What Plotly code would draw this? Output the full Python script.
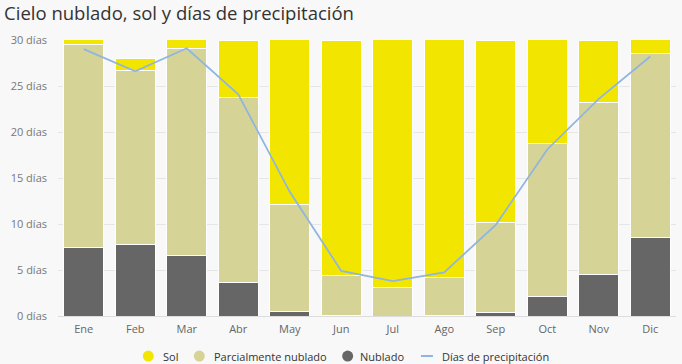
import plotly.graph_objects as go

meses = ["Ene", "Feb", "Mar", "Abr", "May", "Jun", "Jul", "Ago", "Sep", "Oct", "Nov", "Dic"]
dias_mes = [31, 28, 31, 30, 31, 30, 31, 31, 30, 31, 30, 31]
nublado = [7.5, 7.8, 6.6, 3.6, 0.5, 0.05, 0.0, 0.1, 0.35, 2.1, 4.5, 8.5]
parcial_top = [29.5, 26.7, 29.1, 23.7, 12.1, 4.4, 3.1, 4.2, 10.2, 18.7, 23.2, 28.5]
precipitacion = [29.0, 26.6, 29.1, 24.1, 13.5, 4.9, 3.8, 4.75, 9.9, 18.1, 23.6, 28.2]
y_ticks = [0, 5, 10, 15, 20, 25, 30]
legend_names = ["Sol", "Parcialmente nublado", "Nublado", "Días de precipitación"]

parcial = [p - n for p, n in zip(parcial_top, nublado)]
sol = [d - p for d, p in zip(dias_mes, parcial_top)]

C_SOL = "#F2E600"
C_PAR = "#D6D397"
C_NUB = "#666666"
C_LIN = "#8FB5E0"

fig = go.Figure()
for name, vals, col in [("Nublado", nublado, C_NUB), ("Parcialmente nublado", parcial, C_PAR), ("Sol", sol, C_SOL)]:
    fig.add_trace(go.Bar(x=meses, y=vals, name=name, marker=dict(color=col, line=dict(color="white", width=1)),
                         showlegend=False, hoverinfo="y"))
fig.add_trace(go.Scatter(x=meses, y=precipitacion, mode="lines", name="Días de precipitación",
                         line=dict(color=C_LIN, width=1.8), showlegend=False))

# custom legend (symbol close to text, as in the reference)
leg_y = -0.145
leg_sym_x = [0.1461, 0.2287, 0.4687, 0.597]
leg_txt_x = [0.1667, 0.2487, 0.4854, 0.618]
leg_cols = [C_SOL, C_PAR, C_NUB, C_LIN]
for i, (name, sx, tx, col) in enumerate(zip(legend_names, leg_sym_x, leg_txt_x, leg_cols)):
    if i < 3:
        fig.add_shape(type="circle", xref="paper", yref="paper", xsizemode="pixel", ysizemode="pixel",
                      xanchor=sx, yanchor=leg_y, x0=-5.5, x1=5.5, y0=-5.5, y1=5.5,
                      fillcolor=col, line=dict(width=0))
    else:
        fig.add_shape(type="line", xref="paper", yref="paper", xsizemode="pixel", ysizemode="pixel",
                      xanchor=sx, yanchor=leg_y, x0=-6, x1=6, y0=0, y1=0,
                      line=dict(color=col, width=2))
    fig.add_annotation(text=name, xref="paper", yref="paper", x=tx, y=leg_y, xanchor="left",
                       yanchor="middle", showarrow=False,
                       font=dict(family="Open Sans", size=11, color="#333333"))

fig.update_layout(
    width=682, height=364,
    barmode="stack", bargap=0.22,
    paper_bgcolor="#F8F8F8", plot_bgcolor="#F8F8F8",
    margin=dict(l=58, r=6, t=40, b=48, autoexpand=False),
    title=dict(text="Cielo nublado, sol y días de precipitación", x=0.006, xanchor="left", xref="container",
               y=0.9615, yanchor="middle", font=dict(family="Open Sans", size=18.5, color="#333333")),
    font=dict(family="Open Sans", color="#666666", size=11),
    showlegend=False,
    xaxis=dict(showgrid=False, showline=True, linecolor="#DDDDDD", ticks="", automargin=False,
               ticklabelstandoff=3, tickfont=dict(size=11, color="#666666")),
    yaxis=dict(range=[0, 30], tickvals=y_ticks, ticktext=[f"{v} días" for v in y_ticks], automargin=False,
               ticklabelstandoff=10, gridcolor="#E6E6E6", zeroline=False, ticks="",
               tickfont=dict(size=11, color="#777777")),
)
fig.write_html("out.html", config={"displayModeBar": False},
               post_script="document.body.style.margin='0';document.body.style.overflow='hidden';")
